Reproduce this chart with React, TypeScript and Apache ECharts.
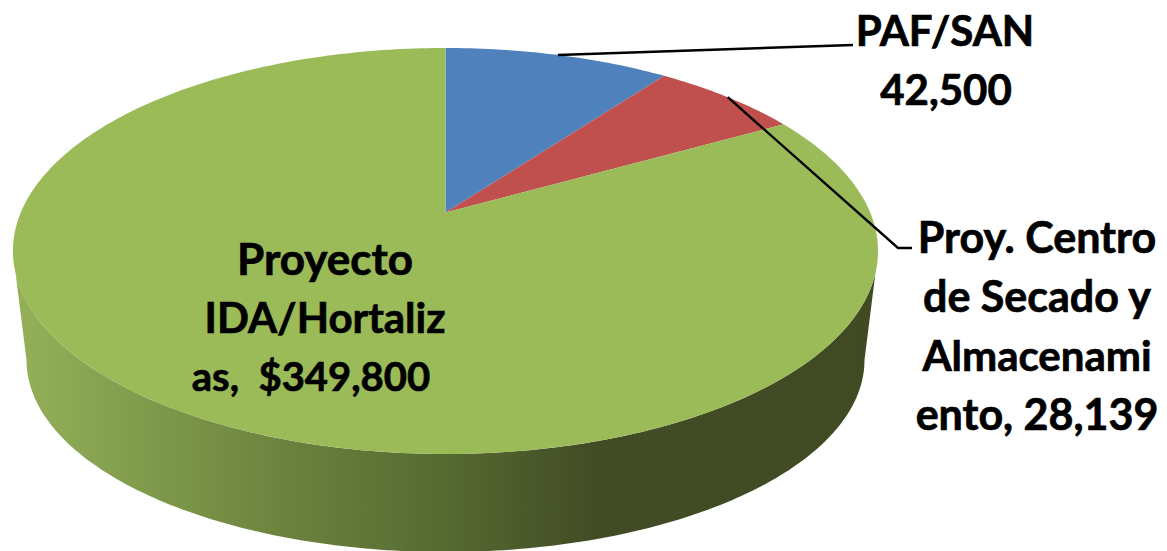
import React, { useEffect, useRef } from "react";
import * as echarts from "echarts";

const sliceNames = ["PAF/SAN", "Proy. Centro de Secado y Almacenamiento", "Proyecto IDA/Hortalizas"];
const sliceValues = [42500, 28139, 349800];
const sliceColors = ["#4F81BD", "#C0504D", "#9BBB59"];
const sliceLabels = [
  ["PAF/SAN", "42,500"],
  ["Proy. Centro", "de Secado y", "Almacenami", "ento, 28,139"],
  ["Proyecto", "IDA/Hortaliz", "as,  $349,800"],
];
const labelCenters = [
  [945, 59],
  [1037, 325],
  [325, 317],
];
// Per-line [x shift, font size] of each label.
const labelLineStyle = [
  [[0, 42], [1, 42]],
  [[0, 43], [0, 43], [0, 42], [0, 43]],
  [[0, 44], [0, 42], [-14, 40]],
];
const leaderEnds: (number[][] | null)[] = [
  [[853, 45]],
  [[898, 248], [912, 248]],
  null,
];

// Pie geometry: the top face is a circle seen in perspective.
const APEX_X = 445.5;
const APEX_Y = 212.5;
const PERSP = 0.1897;
const SCALE_X = 424.7;
const SCALE_Y = 195.7;
// Lower rim of the wall.
const RIM_CY = 360;
const RIM_RX = 419;
const RIM_RY = 192;
const TOP_CY = 251;
const TOP_RX = 432.5;
const TOP_RY = 203;
const LINE_HEIGHT = 59;

const total = sliceValues.reduce((a, b) => a + b, 0);

function project(theta: number): number[] {
  const u = Math.sin(theta);
  const v = Math.cos(theta);
  const w = 1 + PERSP * v;
  return [APEX_X + (SCALE_X * u) / w, APEX_Y - (SCALE_Y * v) / w];
}

function sliceAngles(index: number): number[] {
  let before = 0;
  for (let i = 0; i < index; i++) before += sliceValues[i];
  const a0 = (before / total) * Math.PI * 2;
  const a1 = ((before + sliceValues[index]) / total) * Math.PI * 2;
  return [a0, a1];
}

function wallPoints(): number[][] {
  const pts: number[][] = [];
  // upper edge: front of the top face, left to right
  for (let y = 273, t = Math.asin((y - TOP_CY) / TOP_RY), i = 0; i <= 180; i++) {
    const a = Math.PI - t - ((Math.PI - 2 * t) * i) / 180;
    pts.push([APEX_X + TOP_RX * Math.cos(a), TOP_CY + TOP_RY * Math.sin(a)]);
  }
  // lower rim, right to left
  for (let i = 0; i <= 180; i++) {
    const a = (Math.PI * i) / 180;
    pts.push([APEX_X + RIM_RX * Math.cos(a), RIM_CY + RIM_RY * Math.sin(a)]);
  }
  return pts;
}

export default function App() {
  const ref = useRef<HTMLDivElement>(null);
  useEffect(() => {
    document.body.style.margin = "0";
    const chart = echarts.init(ref.current!, null, { renderer: "svg" });
    const data = sliceValues.map((value, i) => ({ name: sliceNames[i], value }));
    chart.setOption({
      animation: false,
      backgroundColor: "#ffffff",
      series: [
        {
          type: "custom",
          coordinateSystem: "none",
          silent: true,
          data,
          renderItem: (params: any) => {
            const i = params.dataIndex;
            const [a0, a1] = sliceAngles(i);
            const steps = Math.max(8, Math.ceil(((a1 - a0) / (Math.PI * 2)) * 360));
            const points: number[][] = [[APEX_X, APEX_Y]];
            for (let s = 0; s <= steps; s++) points.push(project(a0 + ((a1 - a0) * s) / steps));
            const children: any[] = [];
            if (a1 - a0 > Math.PI) {
              children.push({
                type: "polygon",
                shape: { points: wallPoints() },
                style: {
                  fill: new echarts.graphic.LinearGradient(
                    15, 0, 878, 0,
                    [
                      { offset: 0, color: "#94b159" },
                      { offset: 0.156, color: "#7f9a4b" },
                      { offset: 0.33, color: "#69803d" },
                      { offset: 0.498, color: "#566a31" },
                      { offset: 0.678, color: "#414b24" },
                      { offset: 1, color: "#404a23" },
                    ],
                    true
                  ),
                },
              });
            }
            children.push({
              type: "polygon",
              shape: { points },
              style: { fill: sliceColors[i] },
            });
            return { type: "group", children };
          },
        },
        {
          type: "custom",
          coordinateSystem: "none",
          silent: true,
          data,
          renderItem: (params: any) => {
            const i = params.dataIndex;
            const [a0, a1] = sliceAngles(i);
            const children: any[] = [];
            const ends = leaderEnds[i];
            if (ends) {
              children.push({
                type: "polyline",
                shape: { points: [project((a0 + a1) / 2), ...ends] },
                style: { stroke: "#000000", lineWidth: 2.4, fill: "none" },
              });
            }
            const lines = sliceLabels[i];
            lines.forEach((line, k) => {
              const [dx, size] = labelLineStyle[i][k];
              children.push({
                type: "text",
                x: labelCenters[i][0] + dx,
                y: labelCenters[i][1] + (k - (lines.length - 1) / 2) * LINE_HEIGHT,
                style: {
                  text: line,
                  fontFamily: "Lato",
                  fontWeight: "bold",
                  fontSize: size,
                  fill: "#000000",
                  stroke: "#000000",
                  lineWidth: 0.7,
                  align: "center",
                  verticalAlign: "middle",
                },
              });
            });
            return { type: "group", children };
          },
        },
      ],
    });
    return () => chart.dispose();
  }, []);
  return <div ref={ref} style={{ width: 1167, height: 551 }} />;
}
